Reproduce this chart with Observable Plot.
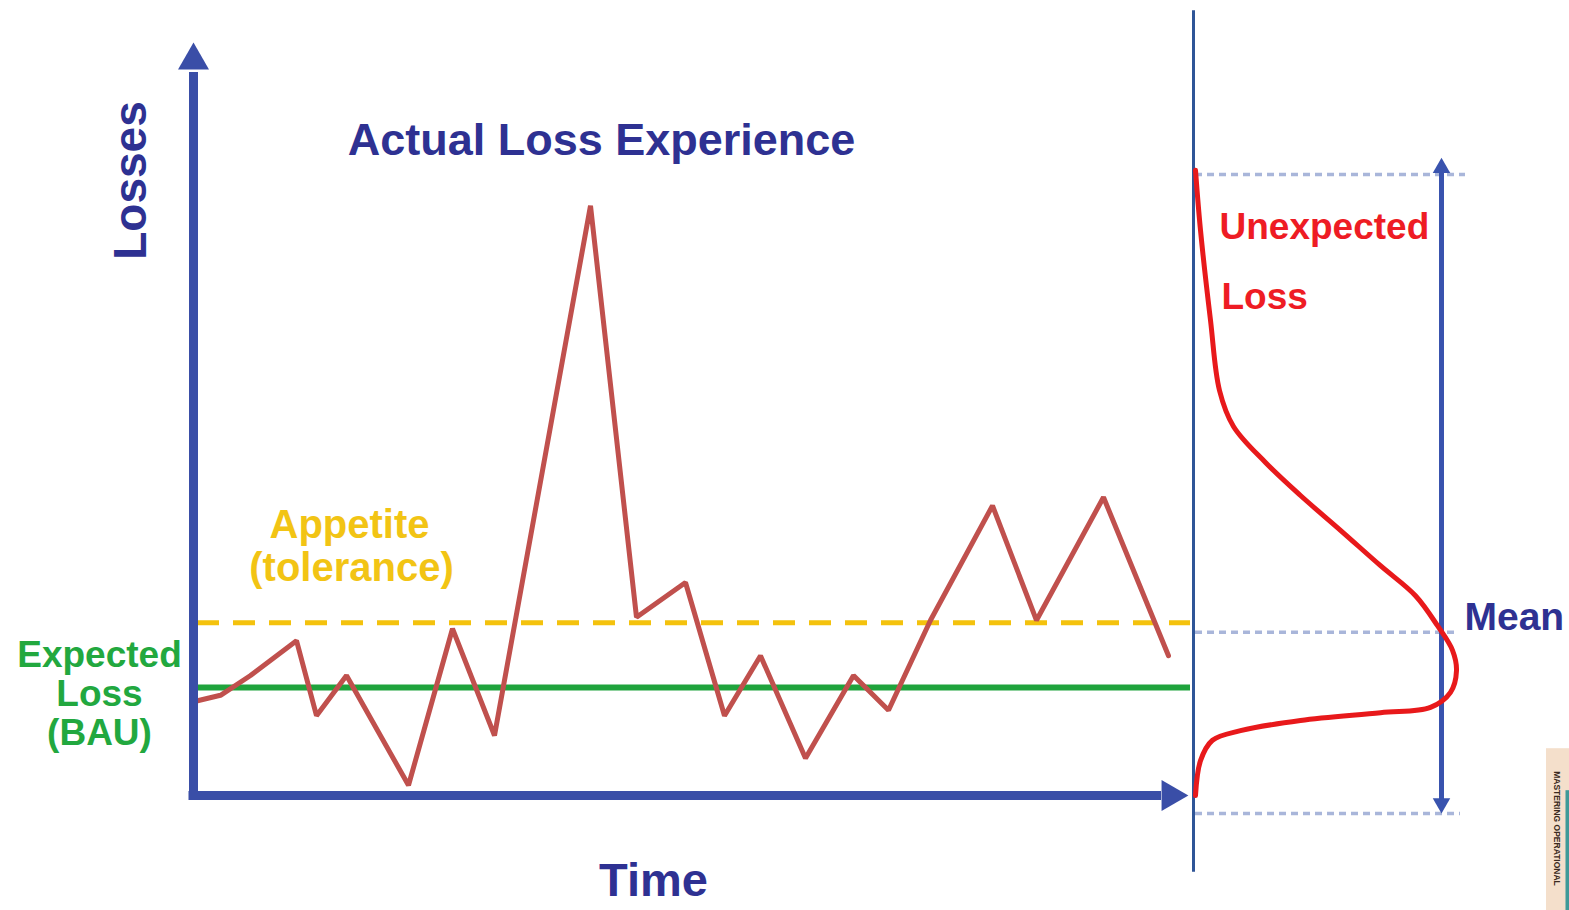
<!DOCTYPE html>
<html>
<head>
<meta charset="utf-8">
<script src="https://cdn.jsdelivr.net/npm/d3@7"></script>
<script src="https://cdn.jsdelivr.net/npm/@observablehq/plot@0.6"></script>
<style>
  html, body { margin: 0; padding: 0; background: #ffffff; }
  #chart { width: 1569px; height: 910px; }
</style>
</head>
<body>
<div id="chart"></div>
<script>
// ---- Data ----
// Actual loss experience over time
const time   = [0.4, 2.7, 5.7, 10.3, 12.3, 15.3, 21.5, 25.9, 30.1, 39.7, 44.3, 49.2, 53.1, 56.7, 61.2, 66.0, 69.5, 73.7, 79.9, 84.3, 91.0, 97.5];
const losses = [15.8, 16.7, 20.0, 25.8, 13.3, 20.0, 1.7, 27.8, 10.0, 98.3, 29.7, 35.5, 13.3, 23.3, 6.2, 20.0, 14.2, 29.2, 48.3, 29.2, 49.7, 23.3];

// Reference levels
const expectedLoss = 18.0;   // Expected Loss (BAU)
const appetite     = 28.8;   // Appetite (tolerance)
const meanLoss     = 27.2;   // Mean of the loss distribution
const maxLoss      = 103.5;  // top of the distribution
const minLoss      = -3.0;   // bottom of the distribution

// Loss distribution (density drawn sideways)
const densityLoss  = [104.2, 94.2, 79.2, 67.5, 61.5, 55.5, 50.0, 44.2, 38.3, 33.3, 28.3, 24.2, 20.8, 17.2, 14.7, 13.8, 12.5, 10.8, 9.2, 5.8, 0.0];
const densityValue = [0.2, 0.7, 1.7, 2.6, 4.0, 7.2, 10.7, 14.7, 18.7, 22.2, 24.4, 25.9, 26.3, 25.7, 23.7, 18.7, 10.7, 4.7, 1.9, 0.7, 0.2];

// Text labels
const titleText      = "Actual Loss Experience";
const yLabel         = "Losses";
const xLabel         = "Time";
const appetite1      = "Appetite";
const appetite2      = "(tolerance)";
const expectedLabel  = "Expected\nLoss\n(BAU)";
const unexpected1    = "Unexpected";
const unexpected2    = "Loss";
const meanLabel      = "Mean";
const bookLabel      = "MASTERING OPERATIONAL";

// ---- Layout in chart units ----
const tEnd = 100;             // end of time axis / start of distribution panel
const panelX = tEnd;          // baseline of the sideways density
const arrowX = panelX + 24.8; // double arrow position

const series = time.map((t, i) => ({t, loss: losses[i]}));
const density = densityLoss.map((l, i) => ({x: panelX + densityValue[i], loss: l}));

const BLUE = "#2e3192";
const AXIS = "#3a4ea7";
const FONT = "Liberation Sans, Arial, Helvetica, sans-serif";

const chart = Plot.plot({
  width: 1569,
  height: 910,
  margin: 0,
  style: {background: "#ffffff", fontFamily: FONT},
  x: {domain: [-19.3, 137.6], axis: null},
  y: {domain: [-19.1667, 132.5], axis: null},
  marks: [
    // book spine decoration (bottom right)
    Plot.rect([0], {x1: 135.3, x2: 137.6, y1: 7.8, y2: -19.1667, fill: "#f4dfcb"}),
    Plot.rect([0], {x1: 137.25, x2: 137.6, y1: 0.8, y2: -19.1667, fill: "#3f9a98"}),
    Plot.text([bookLabel], {x: 136.3, y: -5.5, text: d => d, rotate: 90, fontSize: 8.5, fontWeight: "bold", fill: "#3a2a20", fontFamily: FONT}),

    // dotted guide lines on the distribution panel
    Plot.ruleY([maxLoss], {y: d => d, x1: panelX + 0.2, x2: panelX + 27.2, stroke: "#a9b6da", strokeWidth: 3.5, strokeDasharray: "7,5"}),
    Plot.ruleY([meanLoss], {y: d => d, x1: panelX + 0.2, x2: panelX + 26.2, stroke: "#a9b6da", strokeWidth: 3.5, strokeDasharray: "7,5"}),
    Plot.ruleY([minLoss], {y: d => d, x1: panelX + 0.2, x2: panelX + 26.7, stroke: "#a9b6da", strokeWidth: 3.5, strokeDasharray: "7,5"}),

    // panel vertical line
    Plot.ruleX([panelX], {x: d => d, y1: -12.8, y2: 130.8, stroke: "#2f5597", strokeWidth: 3}),

    // double arrow (range of the distribution)
    Plot.ruleX([arrowX], {x: d => d, y1: -1.3, y2: 104.6, stroke: "#3953ae", strokeWidth: 5}),
    Plot.dot([arrowX], {x: d => d, y: 104.6, symbol: "triangle", r: 6.5, fill: "#3953ae", stroke: null}),
    Plot.dot([arrowX], {x: d => d, y: -1.3, symbol: "triangle", r: 6.5, rotate: 180, fill: "#3953ae", stroke: null}),

    // loss distribution curve
    Plot.line(density, {x: "x", y: "loss", curve: "catmull-rom", stroke: "#e8191b", strokeWidth: 5}),

    // appetite (dashed) and expected loss lines
    Plot.ruleY([appetite], {y: d => d, x1: 0.4, x2: tEnd - 0.3, stroke: "#f4c20d", strokeWidth: 5, strokeDasharray: "22,14"}),
    Plot.ruleY([expectedLoss], {y: d => d, x1: 0.4, x2: tEnd - 0.3, stroke: "#1fa33c", strokeWidth: 6}),

    // actual loss experience
    Plot.line(series, {x: "t", y: "loss", stroke: "#c0504d", strokeWidth: 5, strokeLinejoin: "miter"}),

    // axes with arrow heads
    Plot.ruleX([0], {x: d => d, y1: -0.8, y2: 120.5, stroke: AXIS, strokeWidth: 9}),
    Plot.ruleY([0], {y: d => d, x1: -0.45, x2: 96.8, stroke: AXIS, strokeWidth: 9}),
    Plot.dot([0], {x: d => d, y: 122.5, symbol: "triangle", r: 11.5, fill: AXIS, stroke: null}),
    Plot.dot([0], {x: 97.7, y: d => d, symbol: "triangle", r: 11.5, rotate: 90, fill: AXIS, stroke: null}),

    // text
    Plot.text([titleText], {x: 40.8, y: 109.2, text: d => d, fontSize: 45, fontWeight: "bold", fill: BLUE, fontFamily: FONT}),
    Plot.text([yLabel], {x: -6.2, y: 102.5, text: d => d, rotate: -90, fontSize: 46, fontWeight: "bold", fill: BLUE, fontFamily: FONT}),
    Plot.text([xLabel], {x: 46.0, y: -14.2, text: d => d, fontSize: 47, fontWeight: "bold", fill: BLUE, fontFamily: FONT}),
    Plot.text([appetite1], {x: 15.6, y: 45.0, text: d => d, fontSize: 40, fontWeight: "bold", fill: "#f2c414", fontFamily: FONT}),
    Plot.text([appetite2], {x: 15.8, y: 37.9, text: d => d, fontSize: 40, fontWeight: "bold", fill: "#f2c414", fontFamily: FONT, letterSpacing: "1px"}),
    Plot.text([expectedLabel], {x: -9.4, y: 17.0, text: d => d, fontSize: 37, lineHeight: 1.05, fontWeight: "bold", fill: "#22a83f", fontFamily: FONT}),
    Plot.text([unexpected1], {x: 102.6, y: 94.8, text: d => d, textAnchor: "start", fontSize: 37, fontWeight: "bold", fill: "#ee1c24", fontFamily: FONT}),
    Plot.text([unexpected2], {x: 102.8, y: 83.0, text: d => d, textAnchor: "start", fontSize: 37, fontWeight: "bold", fill: "#ee1c24", fontFamily: FONT}),
    Plot.text([meanLabel], {x: 127.1, y: 29.7, text: d => d, textAnchor: "start", fontSize: 39, fontWeight: "bold", fill: BLUE, fontFamily: FONT})
  ]
});

document.getElementById("chart").appendChild(chart);
</script>
</body>
</html>
